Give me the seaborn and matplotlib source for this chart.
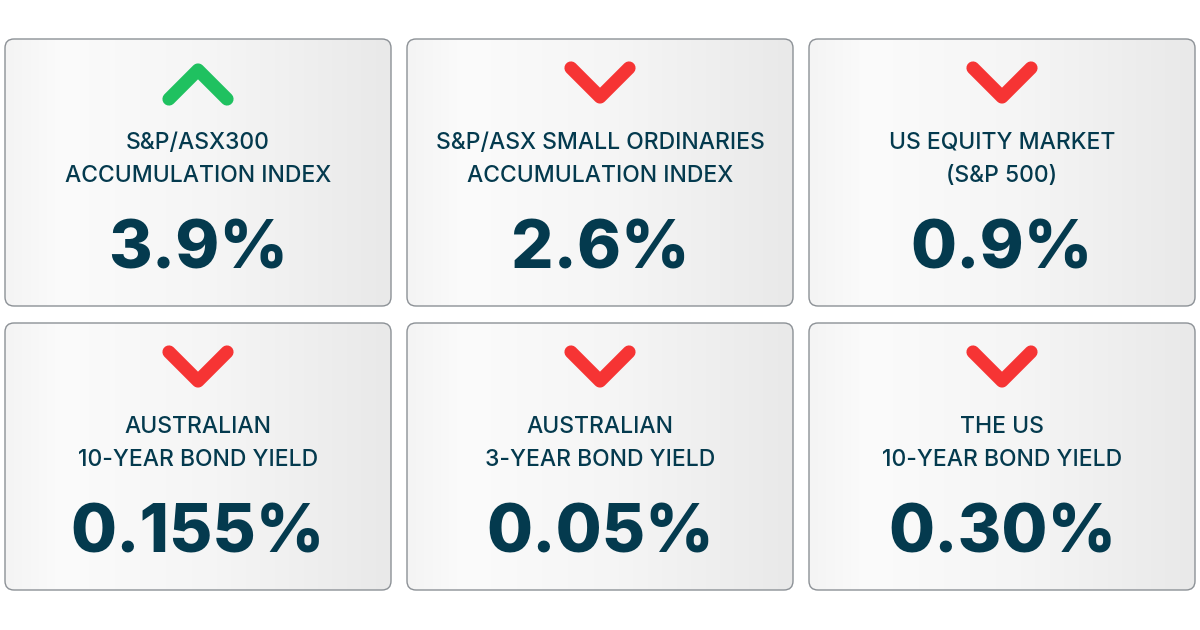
import numpy as np
import matplotlib
matplotlib.use("Agg")
import matplotlib.pyplot as plt
from matplotlib.patches import FancyBboxPatch
from matplotlib.colors import LinearSegmentedColormap
import seaborn as sns

# card data
TITLES_L1 = ["S&P/ASX300", "S&P/ASX SMALL ORDINARIES", "US EQUITY MARKET",
             "AUSTRALIAN", "AUSTRALIAN", "THE US"]
TITLES_L2 = ["ACCUMULATION INDEX", "ACCUMULATION INDEX", "(S&P 500)",
             "10-YEAR BOND YIELD", "3-YEAR BOND YIELD", "10-YEAR BOND YIELD"]
VALUES = ["3.9%", "2.6%", "0.9%", "0.155%", "0.05%", "0.30%"]
DIRECTIONS = ["up", "down", "down", "down", "down", "down"]

TEXT_COLOR = "#043a4e"
UP_COLOR = "#1fc160"
DOWN_COLOR = "#f63434"

sns.set_theme(style="white")
plt.rcParams["font.family"] = ["Inter", "DejaVu Sans"]

W, H = 1200, 630
fig = plt.figure(figsize=(W / 100, H / 100), dpi=100)
ax = fig.add_axes([0, 0, 1, 1])
ax.set_axis_off()

col_left = [5, 407, 809]
row_top = [39, 323]
card_w, card_h = 386, 267

grad = LinearSegmentedColormap.from_list(
    "card", [(0, "#f4f4f4"), (0.15, "#fbfbfb"), (0.55, "#f5f5f5"), (1, "#e9e9e9")])
gradient = np.linspace(0, 1, 256).reshape(1, -1)

for i, (t1, t2, val, d) in enumerate(zip(TITLES_L1, TITLES_L2, VALUES, DIRECTIONS)):
    x0 = col_left[i % 3]
    y0 = row_top[i // 3]
    cx = x0 + card_w / 2

    box = FancyBboxPatch((x0, y0), card_w, card_h,
                         boxstyle="round,pad=0,rounding_size=9",
                         facecolor="none", edgecolor="#8c9196", lw=1.0, zorder=3)
    ax.add_patch(box)
    im = ax.imshow(gradient, cmap=grad, aspect="auto",
                   extent=[x0, x0 + card_w, y0 + card_h, y0], zorder=1)
    im.set_clip_path(box)

    # chevron
    xs = [cx - 29, cx, cx + 29]
    if d == "up":
        ys = [y0 + 60, y0 + 31, y0 + 60]
        color = UP_COLOR
    else:
        ys = [y0 + 29, y0 + 58, y0 + 29]
        color = DOWN_COLOR
    ax.plot(xs, ys, color=color, lw=9.5, solid_capstyle="round",
            solid_joinstyle="round", zorder=4)

    ax.text(cx, y0 + 104, t1, ha="center", va="center", fontsize=16.5,
            fontweight="medium", color=TEXT_COLOR, zorder=5)
    ax.text(cx, y0 + 137, t2, ha="center", va="center", fontsize=16.5,
            fontweight="medium", color=TEXT_COLOR, zorder=5)
    ax.text(cx, y0 + 212, val, ha="center", va="center", fontsize=48,
            fontweight=800, color=TEXT_COLOR, zorder=5)

ax.set_xlim(0, W)
ax.set_ylim(H, 0)

fig.savefig("out.png", dpi=100, facecolor="white")
plt.close(fig)
